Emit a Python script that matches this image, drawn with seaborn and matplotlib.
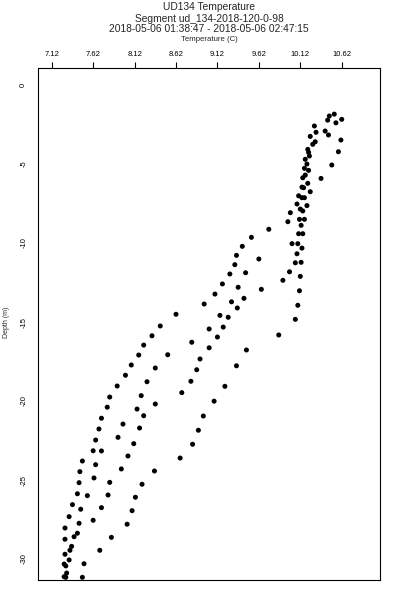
import matplotlib
matplotlib.use("Agg")
import matplotlib.pyplot as plt
import seaborn as sns
import pandas as pd

# Temperature (C) and depth (m) of each sample
temperature = [
    10.53, 10.47, 10.45, 10.62, 10.55, 10.29, 10.42, 10.31, 10.46, 10.24,
    10.61, 10.30, 10.27, 10.21, 10.22, 10.58, 10.23, 10.18, 10.20, 10.50,
    10.17, 10.22, 10.18, 10.15, 10.37, 10.21, 10.14, 10.16, 10.24, 10.10,
    10.14, 10.17, 10.08, 10.20, 10.12, 10.15, 10.00, 10.11, 10.17, 9.97,
    10.13, 9.74, 10.10, 10.15, 9.53, 10.02, 10.09, 9.42, 10.14, 9.35,
    10.08, 9.62, 10.06, 10.13, 9.33, 9.99, 9.46, 9.27, 10.12, 9.91,
    9.18, 9.37, 9.65, 10.11, 9.09, 9.44, 9.29, 8.96, 10.09, 9.36,
    8.62, 9.15, 9.25, 10.06, 8.43, 9.19, 9.02, 9.86, 8.33, 9.12,
    8.81, 8.23, 9.02, 9.47, 8.17, 8.52, 8.91, 8.08, 9.35, 8.37,
    8.87, 8.01, 8.27, 8.80, 7.91, 9.21, 8.69, 8.20, 7.82, 9.08,
    8.37, 7.79, 8.15, 8.95, 7.72, 8.23, 7.98, 8.18, 7.69, 8.89,
    7.65, 7.92, 8.11, 8.82, 7.62, 7.72, 8.04, 8.67, 7.49, 7.65,
    7.46, 7.96, 8.36, 7.45, 7.63, 7.82, 8.21, 7.43, 7.55, 7.80,
    8.13, 7.37, 7.47, 7.72, 8.09, 7.33, 7.45, 7.62, 8.03, 7.28,
    7.43, 7.39, 7.84, 7.28, 7.36, 7.34, 7.70, 7.28, 7.33, 7.27,
    7.29, 7.51, 7.30, 7.27, 7.29, 7.49,
]
depth = [
    -1.84, -1.96, -2.22, -2.17, -2.39, -2.59, -2.91, -2.99, -3.16, -3.25,
    -3.48, -3.59, -3.75, -4.07, -4.26, -4.22, -4.49, -4.70, -5.00, -5.06,
    -5.27, -5.40, -5.70, -5.87, -5.91, -6.22, -6.46, -6.50, -6.75, -7.01,
    -7.13, -7.13, -7.53, -7.63, -7.85, -7.97, -8.08, -8.50, -8.50, -8.65,
    -8.88, -9.13, -9.41, -9.41, -9.64, -10.04, -10.04, -10.21, -10.32, -10.78,
    -10.68, -11.01, -11.25, -11.22, -11.37, -11.82, -11.88, -11.96, -12.11, -12.36,
    -12.59, -12.80, -12.93, -13.02, -13.23, -13.50, -13.72, -13.86, -13.94, -14.11,
    -14.51, -14.58, -14.70, -14.83, -15.25, -15.32, -15.44, -15.82, -15.87, -15.95,
    -16.28, -16.46, -16.63, -16.77, -17.09, -17.07, -17.34, -17.72, -17.77, -17.91,
    -18.02, -18.37, -18.78, -18.75, -19.05, -19.07, -19.47, -19.66, -19.75, -20.01,
    -20.19, -20.39, -20.51, -20.95, -21.09, -20.93, -21.46, -21.71, -21.77, -21.85,
    -22.47, -22.30, -22.70, -22.74, -23.15, -23.16, -23.48, -23.61, -23.80, -24.03,
    -24.47, -24.30, -24.43, -25.17, -24.87, -25.15, -25.27, -25.87, -25.99, -25.95,
    -26.09, -26.56, -26.85, -26.75, -26.94, -27.32, -27.74, -27.55, -27.80, -28.04,
    -28.37, -28.59, -28.63, -28.75, -29.20, -29.45, -29.45, -29.70, -30.06, -30.32,
    -30.44, -30.30, -30.89, -31.12, -31.16, -31.16,
]

x_ticks = [7.12, 7.62, 8.12, 8.62, 9.12, 9.62, 10.12, 10.62]
x_tick_labels = ["7.12", "7.62", "8.12", "8.62", "9.12", "9.62", "10.12", "10.62"]
y_ticks = [0, -5, -10, -15, -20, -25, -30]
y_tick_labels = ["0", "-5", "-10", "-15", "-20", "-25", "-30"]

title_lines = [
    "UD134 Temperature",
    "Segment ud_134-2018-120-0-98",
    "2018-05-06 01:38:47 - 2018-05-06 02:47:15",
]
x_label = "Temperature (C)"
y_label = "Depth (m)"

sns.set_style("white")
plt.rcParams["font.family"] = ["Liberation Sans", "DejaVu Sans"]

df = pd.DataFrame({"temperature": temperature, "depth": depth})

fig = plt.figure(figsize=(4, 6), dpi=100)
ax = fig.add_axes([38.3 / 400, 20 / 600, (380 - 38.3) / 400, (580 - 68) / 600])

sns.scatterplot(data=df, x="temperature", y="depth", ax=ax,
                color="black", edgecolor="none", s=13, linewidth=0,
                legend=False, clip_on=False)

ax.set_xlim(6.958, 11.082)
ax.set_ylim(-31.33, 1.08)
ax.set_xlabel("")
ax.set_ylabel("")

ax.xaxis.tick_top()
ax.set_xticks(x_ticks)
ax.set_xticklabels(x_tick_labels, fontsize=5.5)
ax.tick_params(axis="x", which="both", top=True, bottom=False, direction="out",
               length=4, width=0.8, pad=3, colors="black")

ax.set_yticks(y_ticks)
ax.set_yticklabels(y_tick_labels, fontsize=5.5, rotation=90, va="center")
ax.tick_params(axis="y", which="both", left=True, length=0, pad=8, colors="black")

for sp in ax.spines.values():
    sp.set_visible(True)
    sp.set_color("black")
    sp.set_linewidth(0.8)
ax.grid(False)

cx = (38.3 + 380) / 2 / 400
ys = [7, 18.5, 29.5]
for line, y in zip(title_lines, ys):
    fig.text(cx, 1 - y / 600, line, ha="center", va="center", fontsize=7.4)
fig.text(cx, 1 - 39.5 / 600, x_label, ha="center", va="center", fontsize=5.6)
fig.text(6.5 / 400, 1 - 322 / 600, y_label, ha="center", va="center",
         fontsize=5, rotation=90)

fig.savefig("out.png", dpi=100, facecolor="white")
